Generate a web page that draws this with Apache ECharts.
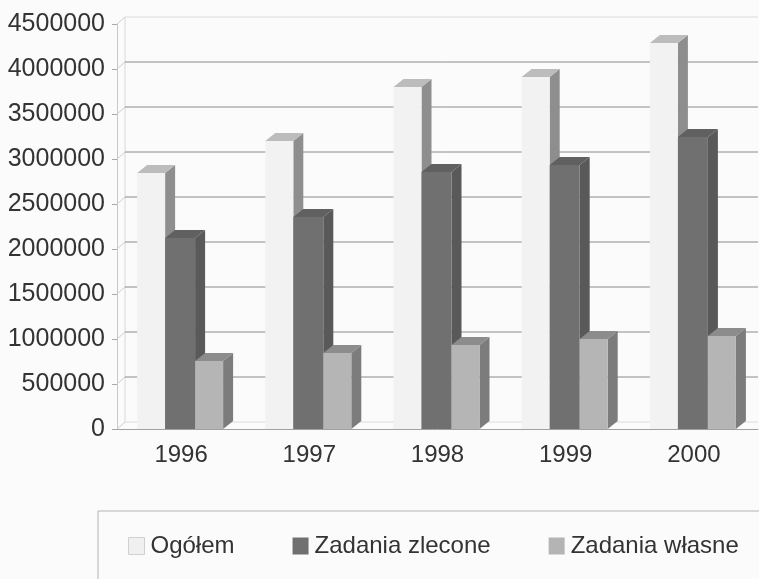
<!DOCTYPE html>
<html>
<head>
<meta charset="utf-8">
<style>html,body{margin:0;padding:0;background:#fbfbfb}#chart{width:759px;height:579px}</style>
<script src="https://cdn.jsdelivr.net/npm/echarts@6/dist/echarts.min.js"></script>
</head>
<body>
<div id="chart"></div>
<script>
const years = ['1996', '1997', '1998', '1999', '2000'];
const ogolem = [2844000, 3200000, 3800000, 3911000, 4289000];
const zlecone = [2122000, 2356000, 2856000, 2933000, 3244000];
const wlasne = [756000, 844000, 933000, 1000000, 1033000];
const yTicks = [0, 500000, 1000000, 1500000, 2000000, 2500000, 3000000, 3500000, 4000000, 4500000];

const chart = echarts.init(document.getElementById('chart'));
const fontName = '"Liberation Sans", Arial, sans-serif';

// 3d bar: front face + top + right side, left offset is measured from the band centre
function bar3d(left, width, front, top, side) {
    const dx = 10, dy = 8;
    return function (params, api) {
        const base = api.coord([api.value(0), 0]);
        const head = api.coord([api.value(0), api.value(1)]);
        const x0 = base[0] + left, x1 = x0 + width;
        return {
            type: 'group',
            children: [
                {type: 'polygon', shape: {points: [[x1, head[1]], [x1 + dx, head[1] - dy], [x1 + dx, base[1] - dy], [x1, base[1]]]}, style: {fill: side}},
                {type: 'polygon', shape: {points: [[x0, head[1]], [x0 + dx, head[1] - dy], [x1 + dx, head[1] - dy], [x1, head[1]]]}, style: {fill: top}},
                {type: 'rect', shape: {x: x0, y: head[1], width: width, height: base[1] - head[1]}, style: {fill: front}}
            ]
        };
    };
}

// back wall of the 3d box
function wall(params, api) {
    const v = api.value(1);
    const p = api.coord([0, v]);
    const sys = params.coordSys;
    const faint = v === 0 || v === 4500000;
    const color = faint ? '#dcdcdc' : '#8a8a8a';
    const children = [
        {type: 'line', shape: {x1: sys.x, y1: p[1], x2: sys.x + 8, y2: p[1] - 7}, style: {stroke: '#cfcfcf', lineWidth: 1}},
        {type: 'line', shape: {x1: sys.x + 8, y1: p[1] - 7, x2: sys.x + sys.width, y2: p[1] - 7}, style: {stroke: color, lineWidth: 1}}
    ];
    if (v === 0) {
        children.push({type: 'line', shape: {x1: sys.x + 8, y1: sys.y - 7, x2: sys.x + 8, y2: p[1] - 7}, style: {stroke: '#d8d8d8', lineWidth: 1}});
    }
    return {type: 'group', children: children};
}

function pairs(values) {
    return values.map(function (v, i) { return [i, v]; });
}

const option = {
    animation: false,
    backgroundColor: '#fbfbfb',
    textStyle: {fontFamily: fontName},
    grid: {left: 117, right: 1, top: 24, height: 405, outerBoundsMode: 'none'},
    graphic: [
        {type: 'rect', z: 0, shape: {x: 98, y: 511, width: 700, height: 120}, style: {fill: 'none', stroke: '#b4b4b4', lineWidth: 1}}
    ],
    legend: {
        left: 128,
        top: 534,
        padding: 0,
        itemWidth: 16,
        itemHeight: 17,
        itemGap: 58,
        icon: 'rect',
        textStyle: {fontFamily: fontName, fontSize: 24, color: '#333', padding: [0, 0, 0, 1]},
        selectedMode: false,
        data: [
            {name: 'Ogółem', itemStyle: {color: '#f0f0f0', borderColor: '#d0d0d0', borderWidth: 1}},
            {name: 'Zadania zlecone', itemStyle: {color: '#707070'}},
            {name: 'Zadania własne', itemStyle: {color: '#b4b4b4'}}
        ]
    },
    xAxis: {
        type: 'category',
        data: years,
        axisLine: {lineStyle: {color: '#a0a0a0'}},
        axisTick: {length: 6, lineStyle: {color: '#a8a8a8'}},
        axisLabel: {fontFamily: fontName, fontSize: 24, color: '#333', margin: 14}
    },
    yAxis: {
        type: 'value',
        min: 0,
        max: 4500000,
        interval: 500000,
        splitLine: {show: false},
        axisLine: {show: true, lineStyle: {color: '#c8c8c8'}},
        axisTick: {show: true, length: 5, lineStyle: {color: '#a8a8a8'}},
        axisLabel: {fontFamily: fontName, fontSize: 25, color: '#333', margin: 12, formatter: function (v) { return String(v); }}
    },
    series: [
        {type: 'custom', name: 'wall', silent: true, clip: false, z: 1, renderItem: wall, data: yTicks.map(function (v) { return [0, v]; })},
        {type: 'custom', name: 'Ogółem', clip: false, z: 2, itemStyle: {color: '#f0f0f0'}, renderItem: bar3d(-44, 28, '#f2f2f2', '#bcbcbc', '#8e8e8e'), data: pairs(ogolem)},
        {type: 'custom', name: 'Zadania zlecone', clip: false, z: 3, itemStyle: {color: '#707070'}, renderItem: bar3d(-16, 30, '#707070', '#606060', '#595959'), data: pairs(zlecone)},
        {type: 'custom', name: 'Zadania własne', clip: false, z: 4, itemStyle: {color: '#b4b4b4'}, renderItem: bar3d(14, 28, '#b5b5b5', '#8c8c8c', '#7c7c7c'), data: pairs(wlasne)}
    ]
};
chart.setOption(option);
</script>
</body>
</html>
